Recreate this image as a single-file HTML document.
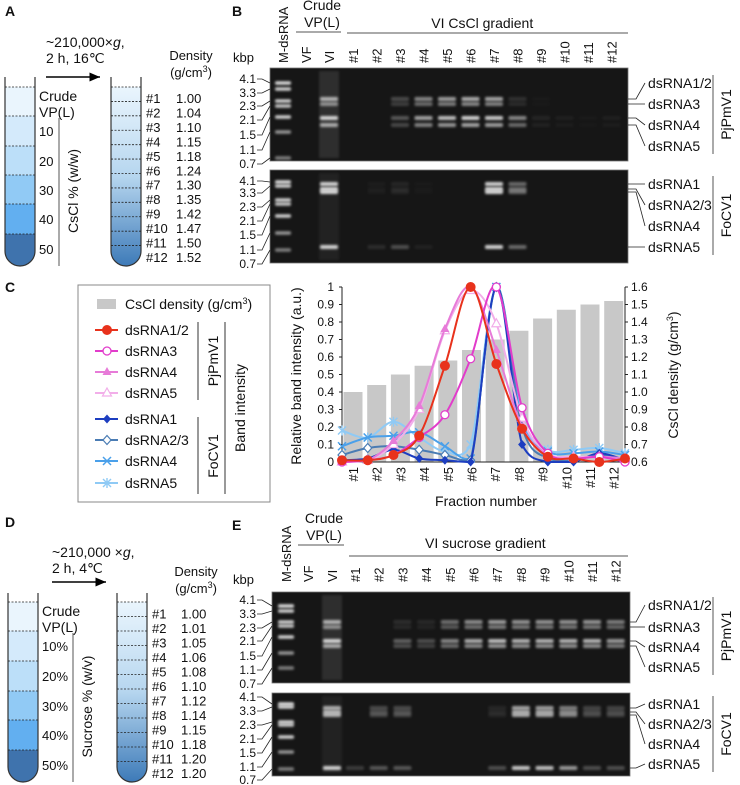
<!DOCTYPE html>
<html><head><meta charset="utf-8">
<style>
html,body{margin:0;padding:0;background:#fff;}
svg{display:block;font-family:"Liberation Sans",sans-serif;}
text{fill:#111;}
</style></head>
<body>
<svg id="fig" width="740" height="785" viewBox="0 0 740 785" xmlns="http://www.w3.org/2000/svg">
<defs>
 <linearGradient id="tubeGrad" x1="0" y1="0" x2="0" y2="1">
  <stop offset="0" stop-color="#eaf5fd"/><stop offset="0.5" stop-color="#b6d6ef"/><stop offset="1" stop-color="#3d7ab8"/>
 </linearGradient>
 <filter id="blur" x="-20%" y="-200%" width="140%" height="500%"><feGaussianBlur stdDeviation="1.2"/></filter>
 <marker id="arr" markerWidth="8" markerHeight="8" refX="7" refY="4" orient="auto"><path d="M0,1 L7,4 L0,7 z" fill="#000"/></marker>
</defs>

<text x="5" y="16" font-weight="bold" font-size="14">A</text>
<text x="232" y="16" font-weight="bold" font-size="14">B</text>
<text x="5" y="292" font-weight="bold" font-size="14">C</text>
<text x="5" y="527" font-weight="bold" font-size="14">D</text>
<text x="232" y="530" font-weight="bold" font-size="14">E</text>

<g id="panelA"></g>
<g id="panelD"></g>
<g id="gelB"></g>
<g id="gelE"></g>
<g id="chartC"></g>
</svg>

<script>
const fractions = ['#1','#2','#3','#4','#5','#6','#7','#8','#9','#10','#11','#12'];
const csclDensity = [1.00,1.04,1.10,1.15,1.18,1.24,1.30,1.35,1.42,1.47,1.50,1.52];
const pj_dsRNA12 = [0.01,0.01,0.04,0.15,0.55,1.0,0.56,0.19,0.03,0.02,0.0,0.02];
const pj_dsRNA3  = [0.0,0.01,0.04,0.14,0.27,0.59,1.0,0.31,0.05,0.02,0.03,0.0];
const pj_dsRNA4  = [0.0,0.01,0.12,0.32,0.76,1.0,0.64,0.20,0.04,0.02,0.03,0.02];
const pj_dsRNA5  = [0.0,0.01,0.10,0.30,0.75,0.98,0.79,0.25,0.05,0.03,0.03,0.02];
const fo_dsRNA1  = [0.01,0.02,0.07,0.02,0.01,0.0,1.0,0.10,0.0,0.0,0.05,0.01];
const fo_dsRNA23 = [0.04,0.08,0.09,0.07,0.04,0.01,1.0,0.20,0.02,0.01,0.04,0.01];
const fo_dsRNA4  = [0.09,0.14,0.15,0.17,0.09,0.02,1.0,0.23,0.06,0.05,0.06,0.04];
const fo_dsRNA5  = [0.18,0.14,0.23,0.14,0.06,0.10,1.0,0.25,0.07,0.07,0.08,0.05];
const leftTicks = ['0','0.1','0.2','0.3','0.4','0.5','0.6','0.7','0.8','0.9','1'];
const rightTicks = ['0.6','0.7','0.8','0.9','1.0','1.1','1.2','1.3','1.4','1.5','1.6'];
const csclTubeDensity = ['1.00','1.04','1.10','1.15','1.18','1.24','1.30','1.35','1.42','1.47','1.50','1.52'];
const sucroseTubeDensity = ['1.00','1.01','1.05','1.06','1.08','1.10','1.12','1.14','1.15','1.18','1.20','1.20'];
const gelB_top = [0,1,0,0,0.35,0.75,0.9,1,0.95,0.6,0.08,0.05,0.02,0.05];
const gelB_bot = [0,1,0,0.12,0.3,0.06,0,0,1,0.45,0,0,0,0];
const gelE_top = [0,1,0,0,0.4,0.3,0.6,0.8,0.9,0.85,0.85,0.85,0.85,0.7];
const gelE_bot = [0,1,0.2,0.35,0.35,0,0,0,0.3,0.95,0.9,0.7,0.3,0.3];
const BAND_SCALE = 0.8;

const NS='http://www.w3.org/2000/svg';
function mk(parent, tag, attrs, txt){
  const e=document.createElementNS(NS,tag);
  for(const k in attrs) e.setAttribute(k,attrs[k]);
  if(txt!==undefined) e.textContent=txt;
  parent.appendChild(e); return e;
}

function drawTubes(g, o){
  const lx=o.lx, w=o.w, top=o.top, bot=o.bot;
  const ly=o.layers;
  for(let i=0;i<o.cols.length;i++){
    const y0=ly[i], y1=(i+1<ly.length)?ly[i+1]:bot-w/2;
    const r=mk(g,'rect',{x:lx,y:y0,width:w,height:y1-y0+0.5,fill:o.cols[i]});
    
    
  }
  const bottom=mk(g,'path',{d:`M${lx},${bot-w/2} A${w/2},${w/2} 0 0 0 ${lx+w},${bot-w/2} z`,fill:o.cols[o.cols.length-1]});
  
  
  const out=mk(g,'path',{d:`M${lx},${top} L${lx},${bot-w/2} A${w/2},${w/2} 0 0 0 ${lx+w},${bot-w/2} L${lx+w},${top}`,fill:'none',stroke:'#333','stroke-width':1.2});
  
  
  ly.forEach(y=>{const l=mk(g,'line',{x1:lx,x2:lx+w,y1:y,y2:y,stroke:'#222','stroke-dasharray':'2,1.5','stroke-width':0.8});
    });
  mk(g,'text',{x:lx+w+4,y:ly[0]+14,'font-size':14},'Crude');
  mk(g,'text',{x:lx+w+4,y:ly[0]+30,'font-size':14},'VP(L)');
  o.pct.forEach((p,i)=>{mk(g,'text',{x:lx+w+4,y:ly[i+1]+20,'font-size':13},p);});
  const vl=mk(g,'line',{x1:o.vlx,x2:o.vlx,y1:ly[1]+2,y2:bot,stroke:'#555','stroke-width':1});
  
  mk(g,'text',{x:0,y:0,'font-size':14,transform:`translate(${o.vlx+19},${(ly[1]+bot)/2}) rotate(-90)`,'text-anchor':'middle'},o.gtitle);
  const t1=mk(g,'text',{x:o.ax,y:o.ty,'font-size':14});
  t1.innerHTML=o.cond1;
  mk(g,'text',{x:o.ax,y:o.ty+16,'font-size':14},o.cond2);
  const ar=mk(g,'line',{x1:o.ax,x2:o.ax+54,y1:o.ay,y2:o.ay,stroke:'#000','stroke-width':1.5,'marker-end':'url(#arr)'});
  
  const rx=o.rx;
  const fill=mk(g,'path',{d:`M${rx},${o.f0} L${rx},${bot-w/2} A${w/2},${w/2} 0 0 0 ${rx+w},${bot-w/2} L${rx+w},${o.f0} z`,fill:'url(#tubeGrad)'});
  
  const rt=mk(g,'path',{d:`M${rx},${top} L${rx},${bot-w/2} A${w/2},${w/2} 0 0 0 ${rx+w},${bot-w/2} L${rx+w},${top}`,fill:'none',stroke:'#333','stroke-width':1.2});
  
  const step=(bot-6-o.f0)/12;
  for(let i=0;i<12;i++){
    const y=o.f0+i*step;
    const l=mk(g,'line',{x1:rx,x2:rx+w,y1:y,y2:y,stroke:'#222','stroke-dasharray':'2,1.5','stroke-width':0.8});
    
    mk(g,'text',{x:rx+w+5,y:y+step/2+9,'font-size':13},fractions[i]);
    mk(g,'text',{x:o.vx,y:y+step/2+9,'font-size':13},o.dens[i]);
  }
  mk(g,'text',{x:o.hx,y:o.hy,'font-size':13,'text-anchor':'middle'},'Density');
  const h2=mk(g,'text',{x:o.hx,y:o.hy+17,'font-size':13,'text-anchor':'middle'});
  h2.innerHTML='(g/cm<tspan font-size="9" dy="-5">3</tspan><tspan dy="5">)</tspan>';
}
drawTubes(document.getElementById('panelA'),{lx:5,w:30,top:77,bot:266,layers:[87,116,146,175,204,234],
  cols:['#eaf5fd','#d4eafb','#bcdff9','#91caf5','#62aff0','#3f73ad'],pct:['10','20','30','40','50'],vlx:59,
  gtitle:'CsCl % (w/w)',ax:46,ty:47,ay:77,cond1:'~210,000×<tspan font-style="italic">g</tspan>,',cond2:'2 h, 16℃',
  rx:111,f0:87,vx:176,dens:csclTubeDensity,hx:191,hy:60});
drawTubes(document.getElementById('panelD'),{lx:8,w:30,top:593,bot:782,layers:[602,631,661,691,720,750],
  cols:['#eaf5fd','#d4eafb','#bcdff9','#91caf5','#62aff0','#3f73ad'],pct:['10%','20%','30%','40%','50%'],vlx:73,
  gtitle:'Sucrose % (w/v)',ax:52,ty:557,ay:582,cond1:'~210,000 ×<tspan font-style="italic">g</tspan>,',cond2:'2 h, 4℃',
  rx:117,f0:602,vx:181,dens:sucroseTubeDensity,hx:196,hy:576});

function drawGel(g, o){
  const kb=['4.1','3.3','2.3','2.1','1.5','1.1','0.7'];
  mk(g,'text',{x:233,y:o.kbpY,'font-size':13},'kbp');
  mk(g,'text',{x:0,y:0,'font-size':13,transform:`translate(${o.lanes[0]+5},${o.labY})rotate(-90)`},'M-dsRNA');
  mk(g,'text',{x:o.lanes[1]+16,y:o.hY-18,'font-size':14,'text-anchor':'middle'},'Crude');
  mk(g,'text',{x:o.lanes[1]+16,y:o.hY-1,'font-size':14,'text-anchor':'middle'},'VP(L)');
  mk(g,'line',{x1:o.lanes[1]-10,x2:o.lanes[2]+12,y1:o.hY+4,y2:o.hY+4,stroke:'#777','stroke-width':1.3});
  mk(g,'text',{x:(o.lanes[3]+o.lanes[14])/2,y:o.titleY,'font-size':14,'text-anchor':'middle'},o.title);
  mk(g,'line',{x1:o.lanes[3]-6,x2:628,y1:o.lineY,y2:o.lineY,stroke:'#777','stroke-width':1.3});
  const ln=['VF','VI'].concat(fractions);
  ln.forEach((t,i)=>{const tx=mk(g,'text',{x:0,y:0,'font-size':13,transform:`translate(${o.lanes[i+1]+5},${o.labY})rotate(-90)`},t);
    });
  [o.top,o.bot].forEach((gl,gi)=>{
    const r=mk(g,'rect',{x:o.x0,y:gl.y0,width:o.x1-o.x0,height:gl.y1-gl.y0,fill:'#161616',stroke:'#777','stroke-width':0.8});
    
    gl.ladder.forEach((y,k)=>{
      const b=mk(g,'rect',{x:o.lanes[0]-8,y:y-1.8,width:16,height:3.6,rx:1.5,fill:'#fff',opacity:[0.85,0.8,0.8,0.75,0.8,0.55,0.45][k],filter:'url(#blur)'});
      
      mk(g,'text',{x:256,y:gl.labY[k]+4,'font-size':12,'text-anchor':'end'},kb[k]);
      mk(g,'polyline',{points:`${257},${gl.labY[k]} ${262},${gl.labY[k]} ${o.x0},${y}`,fill:'none',stroke:'#222','stroke-width':0.8});
    });
    mk(g,'rect',{x:o.lanes[2]-10,y:gl.y0+3,width:20,height:gl.y1-gl.y0-6,fill:'#fff',opacity:gi==0?0.1:0.05,filter:'url(#blur)'});
    gl.vals.forEach((v,i)=>{
      if(v<=0) return;
      const cx=o.lanes[i+1];
      gl.bands.forEach((by,k)=>{
        const f=gl.bandF? gl.bandF(i,k):1;
        const op=Math.min(1,v*f)*BAND_SCALE;
        if(op<=0.01) return;
        const b=mk(g,'rect',{x:cx-9,y:by-2,width:18,height:4,rx:1.5,fill:'#fff',opacity:op,filter:'url(#blur)'});
        
      });
    });
    gl.names.forEach((n,k)=>{
      mk(g,'text',{x:648,y:gl.nameY[k]+5,'font-size':14},n);
      const by=gl.bands[Math.min(k,gl.bands.length-1)];
      mk(g,'polyline',{points:`${o.x1},${by} ${636},${by} ${645},${gl.nameY[k]}`,fill:'none',stroke:'#222','stroke-width':0.8});
    });
    mk(g,'line',{x1:713,x2:713,y1:gl.nameY[0]-8,y2:gl.nameY[3]+8,stroke:'#555','stroke-width':1});
    mk(g,'text',{x:0,y:0,'font-size':14,'text-anchor':'middle',transform:`translate(${731},${(gl.nameY[0]+gl.nameY[3])/2})rotate(-90)`},gi==0?'PjPmV1':'FoCV1');
  });
}
const lanesB=[283,306,329].concat(fractions.map((f,i)=>353+i*23.5));
drawGel(document.getElementById('gelB'),{lanes:lanesB,x0:270,x1:628,kbpY:62,labY:63,hY:28,title:'VI CsCl gradient',titleY:28,lineY:33,
  top:{y0:68,y1:161,ladder:[83,89,101,106,117,132,158],labY:[79,93,106,120,135,150,164],
       bands:[99,104,118,125],vals:gelB_top,
       bandF:(i,k)=>[0.8,0.6,1,0.75][k]*(i>=9&&k<2?0.3:1),
       names:['dsRNA1/2','dsRNA3','dsRNA4','dsRNA5'],nameY:[83,104,125,146]},
  bot:{y0:170,y1:263,ladder:[182,186,200,204,216,233,250],labY:[181,193,207,221,235,250,264],
       bands:[184,189,192,247],vals:gelB_bot,
       bandF:(i,k)=>(i>=2&&i<=5)?(k==3?1:0.3):1,
       names:['dsRNA1','dsRNA2/3','dsRNA4','dsRNA5'],nameY:[184,205,226,247]}});
const lanesE=[286,308,332].concat(fractions.map((f,i)=>355+i*23.7));
drawGel(document.getElementById('gelE'),{lanes:lanesE,x0:272,x1:630,kbpY:584,labY:582,hY:541,title:'VI sucrose gradient',titleY:548,lineY:556,
  top:{y0:592,y1:683,ladder:[606,611,622,626,637,653,668],labY:[600,614,628,641,656,670,684],
       bands:[622,627,641,646],vals:gelE_top,bandF:(i,k)=>[0.8,0.6,1,0.75][k]*(i>=2&&i<=5&&k<2?0.4:1),
       names:['dsRNA1/2','dsRNA3','dsRNA4','dsRNA5'],nameY:[605,627,647,667]},
  bot:{y0:693,y1:776,ladder:[704,707,722,725,737,752,769],labY:[697,711,725,739,753,767,780],
       bands:[708,712,715,768],vals:gelE_bot,bandF:(i,k)=>(i==2)?(k==3?1:0):((i==8)?(k==3?1:0.3):(k==3?1:0.8)),
       names:['dsRNA1','dsRNA2/3','dsRNA4','dsRNA5'],nameY:[704,724,744,764]}});

(function(){
  const g=document.getElementById('chartC');
  const L=342,R=625,T=287,B=462;
  const yL=v=>B-(v/1)*(B-T);
  const yR=v=>B-((v-0.6)/1.0)*(B-T);
  const xBar=i=>353+i*23.7;
  const xPt=i=>L+i*(R-L)/11;
  csclDensity.forEach((d,i)=>{
    const r=mk(g,'rect',{x:xBar(i)-9.5,y:yR(d),width:19,height:B-yR(d),fill:'#c8c8c8'});
    
  });
  mk(g,'line',{x1:L,x2:L,y1:T,y2:B,stroke:'#222'});
  mk(g,'line',{x1:R,x2:R,y1:T,y2:B,stroke:'#222'});
  mk(g,'line',{x1:L,x2:R,y1:B,y2:B,stroke:'#222'});
  leftTicks.forEach(t=>{const v=parseFloat(t);mk(g,'line',{x1:L-3,x2:L,y1:yL(v),y2:yL(v),stroke:'#222'});
    mk(g,'text',{x:L-8,y:yL(v)+4,'font-size':12,'text-anchor':'end'},t);});
  rightTicks.forEach(t=>{const v=parseFloat(t);mk(g,'line',{x1:R,x2:R+3,y1:yR(v),y2:yR(v),stroke:'#222'});
    mk(g,'text',{x:R+6,y:yR(v)+4,'font-size':12},t);});
  fractions.forEach((f,i)=>{const t=mk(g,'text',{x:0,y:0,'font-size':13,'text-anchor':'end',transform:`translate(${xBar(i)+5},${467})rotate(-90)`},f);
    });
  const xt=mk(g,'text',{x:486,y:506,'font-size':14,'text-anchor':'middle'},'Fraction number');
  
  const yt=mk(g,'text',{x:0,y:0,'font-size':14,'text-anchor':'middle',transform:`translate(301,376)rotate(-90)`},'Relative band intensity (a.u.)');
  
  const yt2=mk(g,'text',{x:0,y:0,'font-size':14,'text-anchor':'middle',transform:`translate(678,375)rotate(-90)`});
  yt2.innerHTML='CsCl density (g/cm<tspan font-size="9" dy="-5">3</tspan><tspan dy="5">)</tspan>';
  

  function smooth(pts){
    let d=`M${pts[0][0]},${pts[0][1]}`;
    for(let i=0;i<pts.length-1;i++){
      const p0=pts[i-1]||pts[i],p1=pts[i],p2=pts[i+1],p3=pts[i+2]||p2;
      const c1=[p1[0]+(p2[0]-p0[0])/6,p1[1]+(p2[1]-p0[1])/6];
      const c2=[p2[0]-(p3[0]-p1[0])/6,p2[1]-(p3[1]-p1[1])/6];
      d+=` C${c1[0]},${Math.min(B,c1[1])} ${c2[0]},${Math.min(B,c2[1])} ${p2[0]},${p2[1]}`;
    }
    return d;
  }
  function marker(p,x,y,type,col){
    let e;
    if(type=='dot') e=mk(p,'circle',{cx:x,cy:y,r:5,fill:col});
    else if(type=='ocircle') e=mk(p,'circle',{cx:x,cy:y,r:4,fill:'#fff',stroke:col,'stroke-width':1.3});
    else if(type=='tri') e=mk(p,'path',{d:`M${x},${y-5}L${x+4.5},${y+3}L${x-4.5},${y+3}z`,fill:col});
    else if(type=='otri') e=mk(p,'path',{d:`M${x},${y-5}L${x+4.5},${y+3}L${x-4.5},${y+3}z`,fill:'#fff',stroke:col,'stroke-width':1.2});
    else if(type=='dia') e=mk(p,'path',{d:`M${x},${y-4.5}L${x+4},${y}L${x},${y+4.5}L${x-4},${y}z`,fill:col});
    else if(type=='odia') e=mk(p,'path',{d:`M${x},${y-4.5}L${x+4},${y}L${x},${y+4.5}L${x-4},${y}z`,fill:'#fff',stroke:col,'stroke-width':1.2});
    else if(type=='x') e=mk(p,'path',{d:`M${x-4},${y-4}L${x+4},${y+4}M${x-4},${y+4}L${x+4},${y-4}`,stroke:col,'stroke-width':1.5});
    else e=mk(p,'path',{d:`M${x-4},${y-4}L${x+4},${y+4}M${x-4},${y+4}L${x+4},${y-4}M${x},${y-5}L${x},${y+5}`,stroke:col,'stroke-width':1.4});
    return e;
  }
  const series=[
    {name:'focv1-dsrna5',v:fo_dsRNA5,c:'#8fcaf5',m:'ast'},
    {name:'focv1-dsrna4',v:fo_dsRNA4,c:'#4aa0ea',m:'x'},
    {name:'focv1-dsrna23',v:fo_dsRNA23,c:'#4a7cb4',m:'odia'},
    {name:'focv1-dsrna1',v:fo_dsRNA1,c:'#1d3ec0',m:'dia'},
    {name:'pjpmv1-dsrna5',v:pj_dsRNA5,c:'#f2aee9',m:'otri'},
    {name:'pjpmv1-dsrna4',v:pj_dsRNA4,c:'#e77bd8',m:'tri'},
    {name:'pjpmv1-dsrna3',v:pj_dsRNA3,c:'#e23ccb',m:'ocircle'},
    {name:'pjpmv1-dsrna12',v:pj_dsRNA12,c:'#e8321c',m:'dot'}];
  series.forEach(s=>{
    const sg=mk(g,'g',{});
    
    
    const pts=s.v.map((v,i)=>[xPt(i),yL(v)]);
    const p=mk(sg,'path',{d:smooth(pts),fill:'none',stroke:s.c,'stroke-width':2});
    
    pts.forEach(q=>{const e=marker(sg,q[0],q[1],s.m,s.c);
      });
  });

  const lg=mk(g,'g',{});
  
  
  mk(lg,'rect',{x:78,y:285,width:192,height:217,fill:'#fff',stroke:'#888','stroke-width':1});
  mk(lg,'rect',{x:97,y:299,width:19,height:10,fill:'#c8c8c8'});
  const lt=mk(lg,'text',{x:125,y:309,'font-size':14});
  lt.innerHTML='CsCl density (g/cm<tspan font-size="9" dy="-5">3</tspan><tspan dy="5">)</tspan>';
  const legItems=[['dsRNA1/2','#e8321c','dot',330],['dsRNA3','#e23ccb','ocircle',351],['dsRNA4','#e77bd8','tri',372],['dsRNA5','#f2aee9','otri',393],
    ['dsRNA1','#1d3ec0','dia',419],['dsRNA2/3','#4a7cb4','odia',440],['dsRNA4','#4aa0ea','x',461],['dsRNA5','#8fcaf5','ast',483]];
  legItems.forEach(it=>{
    const eg=mk(lg,'g',{});
    
    
    mk(eg,'line',{x1:95,x2:118,y1:it[3],y2:it[3],stroke:it[1],'stroke-width':2});
    marker(eg,107,it[3],it[2],it[1]);
    mk(eg,'text',{x:125,y:it[3]+5,'font-size':14},it[0]);
  });
  mk(lg,'line',{x1:198,x2:198,y1:322,y2:400,stroke:'#333'});
  mk(lg,'line',{x1:198,x2:198,y1:417,y2:494,stroke:'#333'});
  mk(lg,'line',{x1:225,x2:225,y1:322,y2:494,stroke:'#333'});
  mk(lg,'text',{x:0,y:0,'font-size':14,'text-anchor':'middle',transform:'translate(218,361)rotate(-90)'},'PjPmV1');
  mk(lg,'text',{x:0,y:0,'font-size':14,'text-anchor':'middle',transform:'translate(218,456)rotate(-90)'},'FoCV1');
  mk(lg,'text',{x:0,y:0,'font-size':14,'text-anchor':'middle',transform:'translate(245,408)rotate(-90)'},'Band intensity');
})();
</script>
</body></html>
